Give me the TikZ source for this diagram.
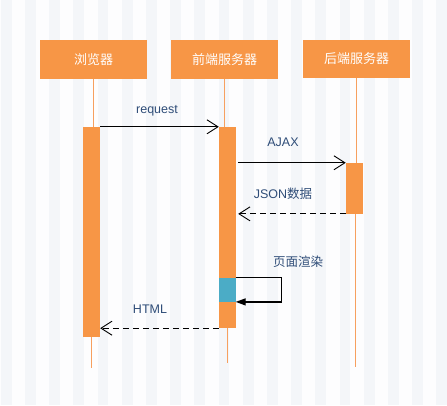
\documentclass[tikz,border=0pt]{standalone}
\usepackage{fontspec}
\setmainfont{Liberation Sans}
\newfontfamily\cjk{Noto Sans CJK SC}
\usetikzlibrary{arrows.meta}
\definecolor{org}{RGB}{247,150,70}
\definecolor{teal2}{RGB}{75,172,198}
\definecolor{lbl}{RGB}{47,77,120}
\definecolor{stripe}{RGB}{244,246,249}
\definecolor{bgw}{RGB}{253,253,254}
\definecolor{life}{RGB}{247,160,95}
\tikzset{
  actor/.style={fill=org, draw=none, minimum width=107pt, minimum height=39pt, inner sep=0pt, text=white, font=\cjk\fontsize{13}{13}\selectfont},
  bar/.style={fill=org, draw=none, minimum width=17pt, inner sep=0pt},
  lifeline/.style={draw=life, line width=0.9pt},
  msg/.style={draw=black, line width=1.2pt, -{Straight Barb[length=11pt,width=14pt,line width=0.9pt]}},
  reply/.style={msg, dash pattern=on 6pt off 4pt},
  selfmsg/.style={draw=black, line width=1.2pt, -{Triangle[length=10pt,width=7pt]}},
  lab/.style={text=lbl, font=\fontsize{12.5}{12.5}\selectfont, inner sep=0pt}
}
\begin{document}
\begin{tikzpicture}[x=1pt,y=-1pt]
\fill[bgw] (0,0) rectangle (447,405);
\useasboundingbox (0,0) rectangle (447,405);
\foreach \i in {0,...,18} \fill[stripe] ({\i*24.2+0.8},0) rectangle ++(10.7,405);
% actors
\node[actor] (b1) at (93.5,59.5) {浏览器};
\node[actor] (b2) at (224.5,59.5) {前端服务器};
\node[actor, minimum height=38pt] (b3) at (356.5,59) {后端服务器};
% activation bars
\node[bar, minimum height=210pt] (a1) at (91.5,232) {};
\node[bar, minimum height=201pt] (a2) at (227.5,227.5) {};
\node[bar, minimum width=16.7pt, minimum height=50.7pt] (a3) at (354.3,188.3) {};
\node[fill=teal2, draw=none, minimum width=16.5pt, minimum height=24pt, inner sep=0pt] (t) at (227.25,289.7) {};
% lifeline ends
\coordinate (e1) at (91.7,368);
\coordinate (e2) at (227,363);
\coordinate (e3) at (355.7,367);
\draw[lifeline] (b1.south) -- (b1.south |- a1.north);
\draw[lifeline] (a1.south -| e1) -- (e1);
\draw[lifeline] (b2.south) -- (b2.south |- a2.north);
\draw[lifeline] (a2.south -| e2) -- (e2);
\draw[lifeline] (b3.south) -- (b3.south |- a3.north);
\draw[lifeline] (a3.south -| e3) -- (e3);
% messages
\draw[msg] (a1.north east) -- (a2.north west);
\node[lab] (l1) at (157,111) {request};
\draw[msg] ([xshift=2pt]a2.east |- a3.north) -- (a3.north west);
\node[lab] (l2) at (283,142) {AJAX};
\draw[reply] (a3.south west) -- ([xshift=2pt]a2.east |- a3.south);
\node[lab] (l3) at (283,194) {JSON{\cjk 数据}};
\draw[selfmsg] (t.north east) -- ++(46,0) |- (t.south east);
\node[lab, font=\cjk\fontsize{12.5}{12.5}\selectfont] (l4) at (298,262) {页面渲染};
\draw[reply] (a2.south west) -- (a1.east |- a2.south);
\node[lab] (l5) at (150,309) {HTML};
\end{tikzpicture}
\end{document}
